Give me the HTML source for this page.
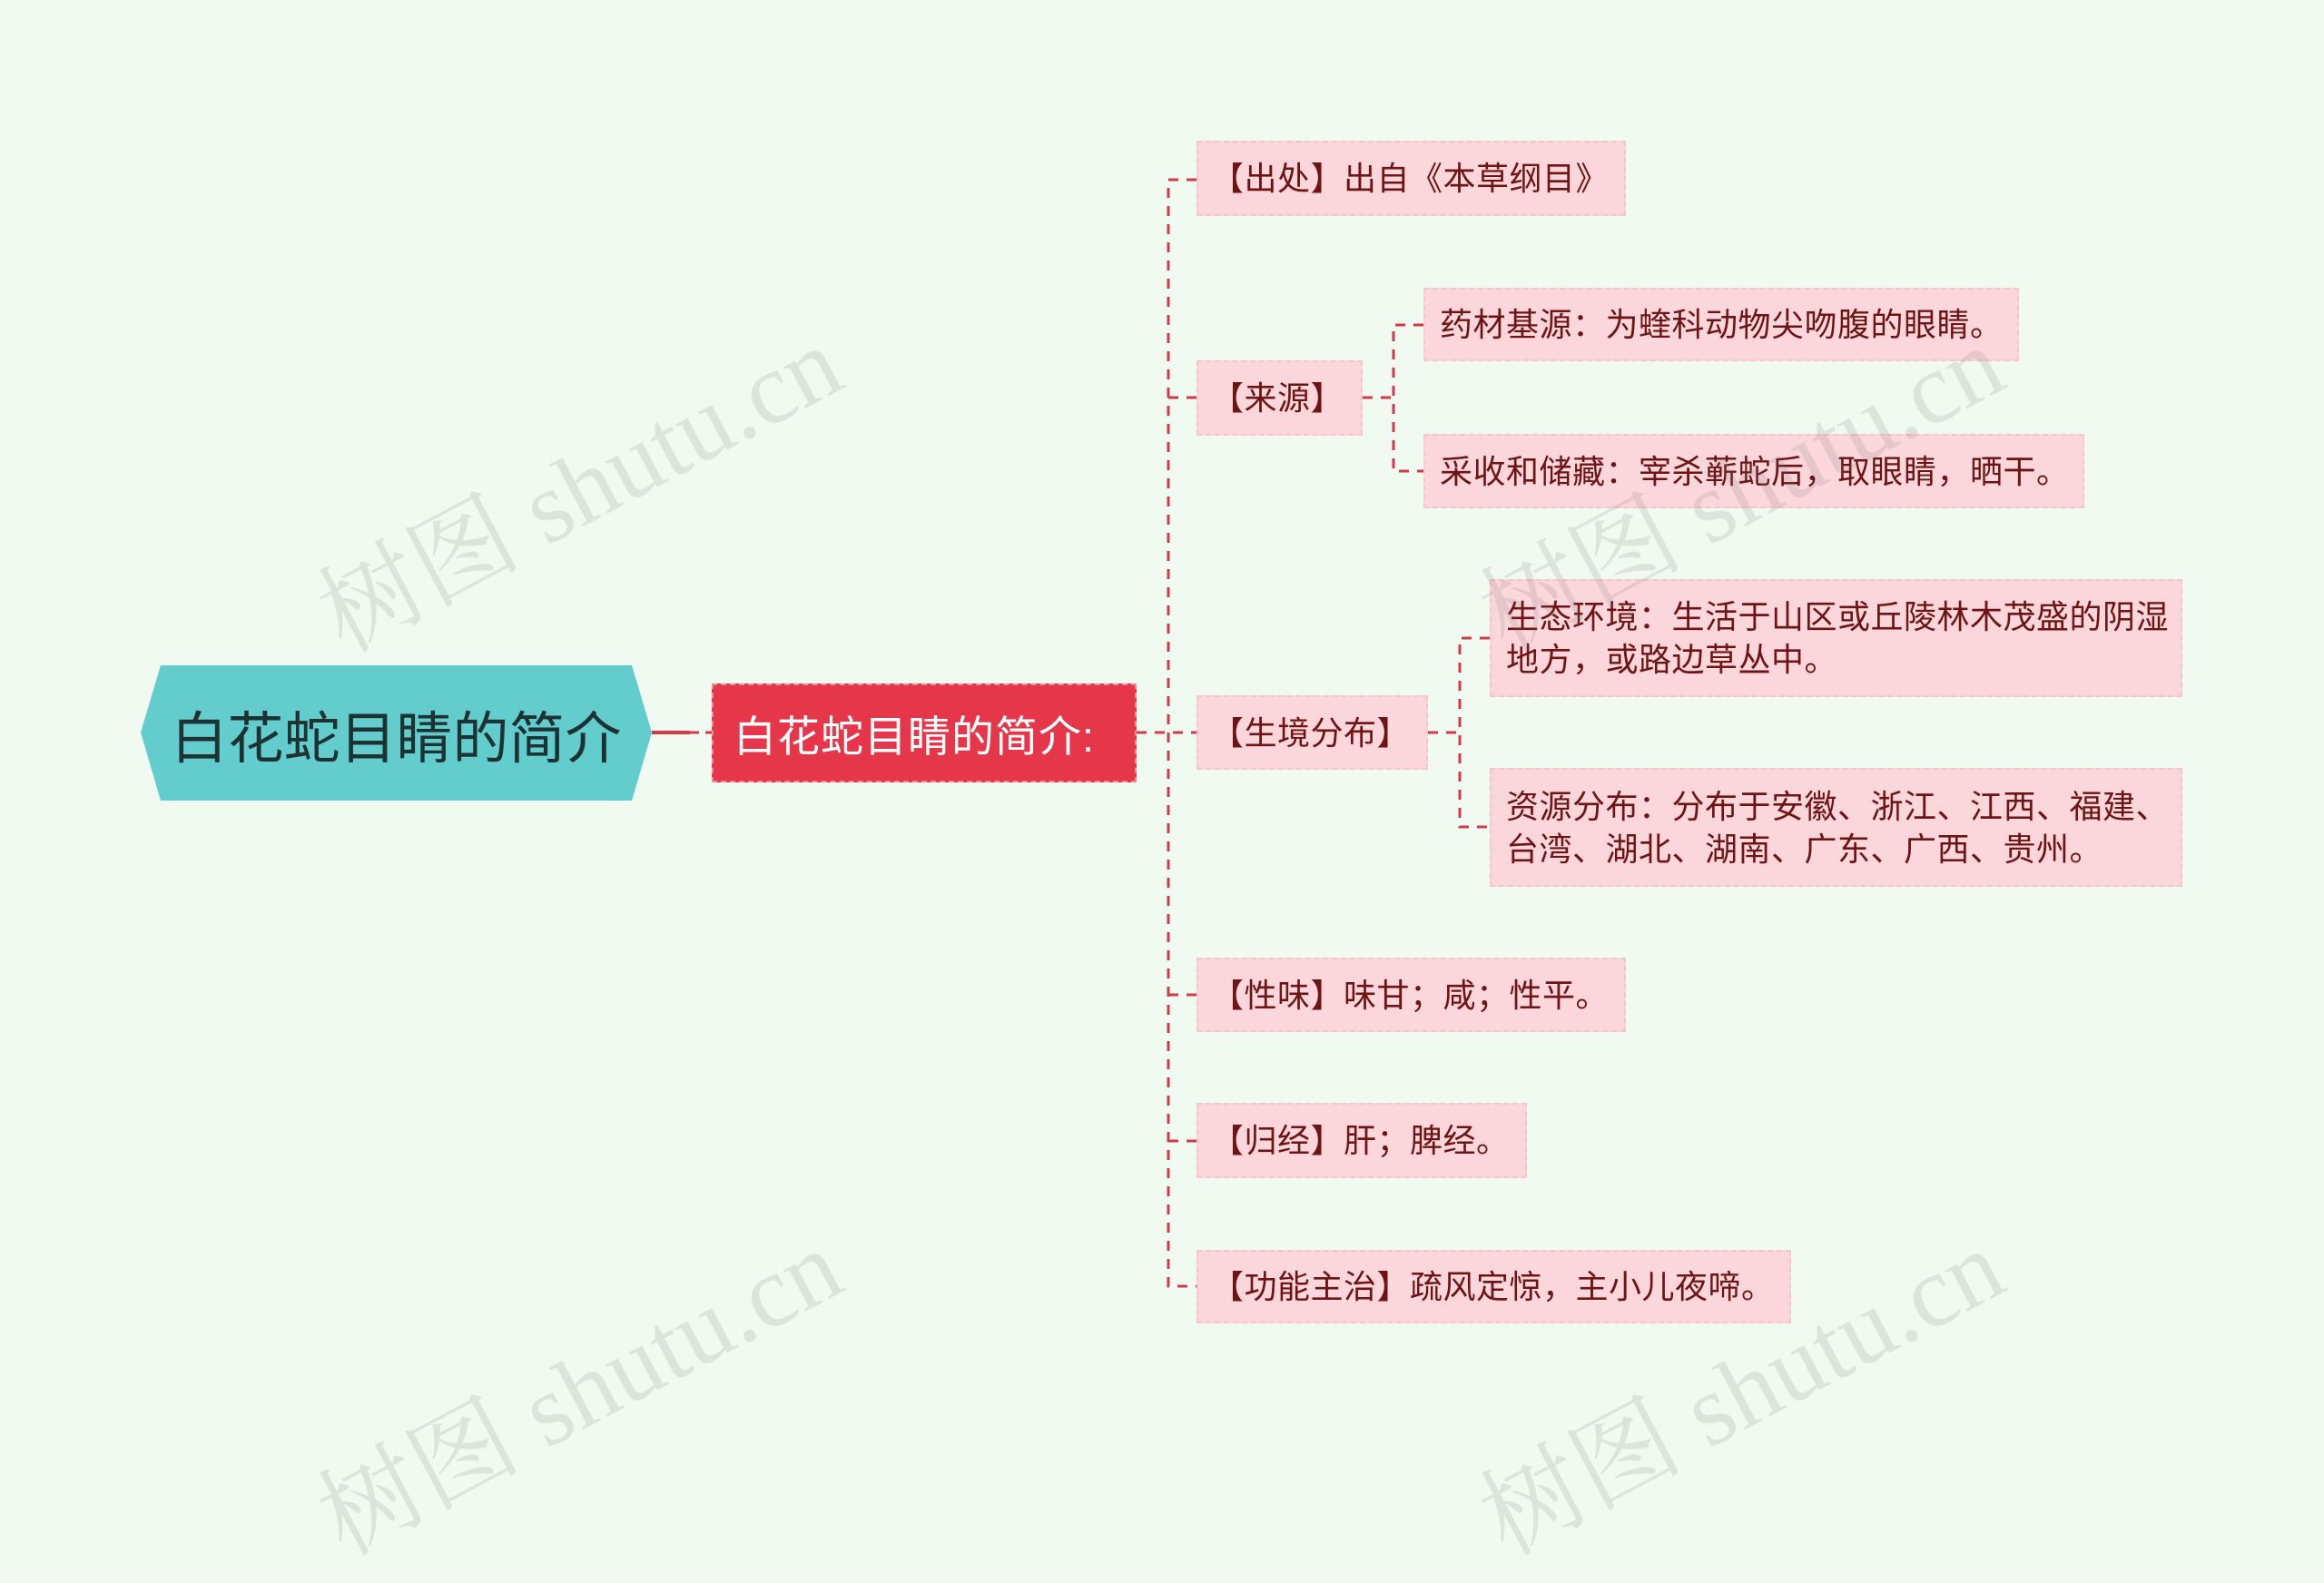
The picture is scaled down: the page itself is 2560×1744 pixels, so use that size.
<!DOCTYPE html>
<html><head><meta charset="utf-8"><style>
html,body{margin:0;padding:0}
body{width:2560px;height:1615px;background:#f0faf0;position:relative;overflow:hidden;font-family:"Liberation Sans","Noto Sans CJK SC",sans-serif}
.n{position:absolute;background:#fbd6db;color:#6e1414;font-size:36px;letter-spacing:0.5px;box-sizing:border-box;padding-left:22px;display:flex;align-items:center;line-height:47px;outline:2px dashed #f6c4cb;outline-offset:-2px}
.wm{position:absolute;font-family:"Liberation Serif","Noto Serif CJK SC",serif;font-size:112px;color:rgba(120,120,120,0.16);transform:rotate(-28deg);white-space:nowrap;transform-origin:center}
</style></head><body>
<svg width="2560" height="1615" style="position:absolute;left:0;top:0">
<polygon points="155,807 177,733 696,733 718,807 696,882 177,882" fill="#63cccc"/>
<line x1="718" y1="807" x2="760" y2="807" stroke="#d8394a" stroke-width="4"/>
<line x1="760" y1="807" x2="784" y2="807" stroke="#d8394a" stroke-width="3" stroke-dasharray="10,7"/>
<g stroke="#d23a4a" stroke-width="3" fill="none" stroke-dasharray="11,9">
<line x1="1252" y1="807" x2="1318" y2="807"/>
<path d="M1318,198 H1287 V1417 H1318"/>
<line x1="1287" y1="438" x2="1318" y2="438"/>
<line x1="1287" y1="1096" x2="1318" y2="1096"/>
<line x1="1287" y1="1257" x2="1318" y2="1257"/>
<path d="M1501,438 H1535 M1568,358 H1535 V519 H1568"/>
<path d="M1573,807 H1608 M1641,703 H1608 V911 H1641"/>
</g>
</svg>
<div style="position:absolute;left:155px;top:733px;width:563px;height:149px;display:flex;align-items:center;justify-content:center;font-size:62px;color:#1d3232">白花蛇目睛的简介</div>
<div style="position:absolute;left:784px;top:753px;width:468px;height:109px;background:#e5364a;color:#fff;font-size:47px;letter-spacing:1px;display:flex;align-items:center;padding-left:24px;box-sizing:border-box;outline:2px dashed #f08a95;outline-offset:-2px">白花蛇目睛的简介:</div>
<div class="n" style="left:1318px;top:155px;width:473px;height:83px;padding-left:16px">【出处】出自《本草纲目》</div>
<div class="n" style="left:1318px;top:397px;width:183px;height:83px;padding-left:16px">【来源】</div>
<div class="n" style="left:1568px;top:317px;width:656px;height:81px;padding-left:18px">药材基源：为蝰科动物尖吻腹的眼睛。</div>
<div class="n" style="left:1568px;top:478px;width:728px;height:82px;padding-left:18px">采收和储藏：宰杀蕲蛇后，取眼睛，晒干。</div>
<div class="n" style="left:1318px;top:766px;width:255px;height:82px;padding-left:16px">【生境分布】</div>
<div class="n" style="left:1641px;top:638px;width:763px;height:130px;padding-left:18px">生态环境：生活于山区或丘陵林木茂盛的阴湿<br>地方，或路边草丛中。</div>
<div class="n" style="left:1641px;top:846px;width:763px;height:131px;padding-left:18px">资源分布：分布于安徽、浙江、江西、福建、<br>台湾、湖北、湖南、广东、广西、贵州。</div>
<div class="n" style="left:1318px;top:1055px;width:473px;height:82px;padding-left:16px">【性味】味甘；咸；性平。</div>
<div class="n" style="left:1318px;top:1215px;width:364px;height:83px;padding-left:16px">【归经】肝；脾经。</div>
<div class="n" style="left:1318px;top:1377px;width:655px;height:81px;padding-left:16px">【功能主治】疏风定惊，主小儿夜啼。</div>
<div class="wm" style="left:320px;top:450px">树图 shutu.cn</div>
<div class="wm" style="left:1600px;top:450px">树图 shutu.cn</div>
<div class="wm" style="left:320px;top:1445px">树图 shutu.cn</div>
<div class="wm" style="left:1600px;top:1445px">树图 shutu.cn</div>
</body></html>
